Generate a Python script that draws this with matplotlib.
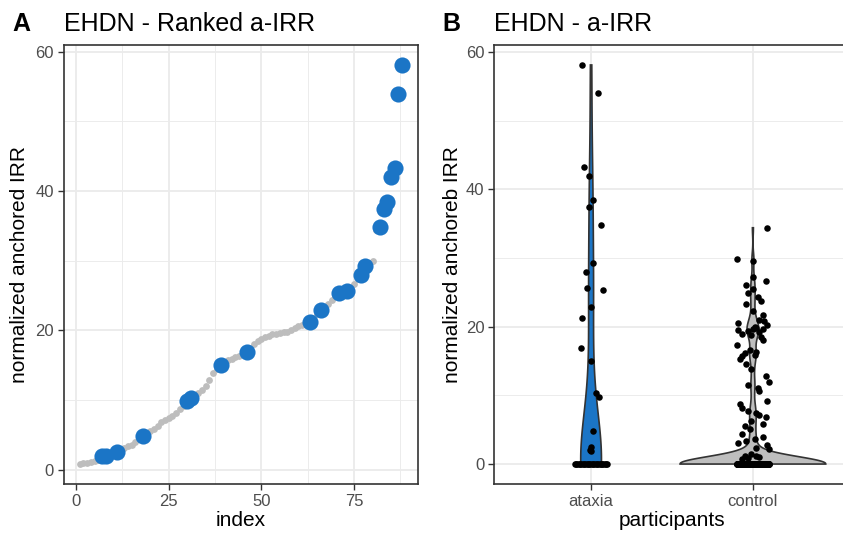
import numpy as np
import matplotlib
matplotlib.use("Agg")
import matplotlib.pyplot as plt

plt.rcParams['font.family'] = ['Liberation Sans', 'DejaVu Sans']

# ---------------- data ----------------
groups = ["ataxia", "control"]

ataxia_values = [1.9, 2.0, 2.5, 4.8, 9.8, 10.3, 15.0, 16.9, 21.2, 22.9, 25.4,
                 25.6, 28.0, 29.3, 34.8, 37.4, 38.4, 42.0, 43.3, 54.0, 58.1]
ataxia_jitter = [0.0, -0.006, 0.0, 0.014, 0.047, 0.029, 0.0, -0.062, -0.055, 0.0, 0.076,
                 -0.023, -0.033, 0.014, 0.062, -0.010, 0.014, -0.016, -0.041, 0.045, -0.057]

control_values = [0.8, 0.9, 1.0, 1.1, 1.2, 1.4, 2.2, 2.4, 2.8, 3.1, 3.4, 3.6, 4.0, 4.4,
                  5.1, 5.5, 5.9, 6.3, 6.8, 7.1, 7.4, 7.7, 8.1, 8.7, 9.2, 10.6, 11.0, 11.5,
                  12.0, 12.8, 13.9, 14.5, 15.3, 15.7, 15.9, 16.1, 16.3, 16.6, 17.4, 18.1,
                  18.5, 18.8, 19.0, 19.2, 19.4, 19.5, 19.6, 19.7, 19.8, 20.0, 20.3, 20.6,
                  20.8, 21.0, 21.7, 22.3, 23.3, 23.8, 24.3, 24.9, 25.5, 26.1, 26.6, 27.3,
                  29.6, 29.9, 34.4]
control_jitter = [-0.07, -0.03, 0.04, -0.05, 0.02, -0.01, 0.10, 0.02, 0.09, -0.09, -0.04,
                  0.01, 0.06, -0.07, -0.02, -0.05, 0.06, -0.01, 0.08, 0.04, 0.02, -0.03,
                  -0.07, -0.08, 0.09, 0.04, 0.03, -0.03, 0.10, 0.08, -0.01, -0.04, -0.08,
                  -0.07, 0.01, -0.05, 0.02, -0.02, -0.10, 0.06, 0.05, -0.01, -0.07, 0.04,
                  -0.03, -0.09, 0.06, 0.00, 0.02, 0.01, 0.09, -0.09, 0.07, 0.04, 0.06,
                  0.00, -0.04, 0.05, 0.03, -0.03, 0.00, -0.04, 0.08, 0.00, 0.00, -0.10, 0.09]

n_zero_ataxia = 26
n_zero_control = 145

# ---------------- style ----------------
BLUE = "#1B75C6"
GRAY_PT = "#BDBDBD"
GRAY_FILL = "#BEBEBE"
GRID = "#EBEBEB"
FRAME = "#333333"
TICKLAB = "#4D4D4D"

W, H = 843, 537
fig = plt.figure(figsize=(W / 100, H / 100), dpi=100)

def px_axes(l, r, t, b):
    return fig.add_axes([l / W, 1 - b / H, (r - l) / W, (b - t) / H])

axA = px_axes(63.6, 418.3, 45, 484)
axB = px_axes(494, 850, 45, 484)


def style(ax):
    for s in ax.spines.values():
        s.set_color(FRAME)
        s.set_linewidth(1.2)
    ax.grid(True, which="major", color=GRID, lw=1.3, zorder=0)
    ax.grid(True, which="minor", color=GRID, lw=0.65, zorder=0)
    ax.set_axisbelow(True)
    ax.tick_params(which="major", length=4, width=1.0, color=FRAME,
                   labelsize=12, labelcolor=TICKLAB, pad=3)
    ax.tick_params(which="minor", length=0)


# ---------------- Panel A ----------------
all_vals = np.array(ataxia_values + control_values)
is_ataxia = np.array([True] * len(ataxia_values) + [False] * len(control_values))
order = np.argsort(all_vals, kind="stable")
ranked = all_vals[order]
ranked_ataxia = is_ataxia[order]
idx = np.arange(1, len(ranked) + 1)

axA.scatter(idx[~ranked_ataxia], ranked[~ranked_ataxia], s=24, color=GRAY_PT, lw=0, zorder=2)
axA.scatter(idx[ranked_ataxia], ranked[ranked_ataxia], s=135, color=BLUE, lw=0, zorder=3)

xspan = idx.max() - idx.min()
axA.set_xlim(idx.min() - 0.05 * xspan, idx.max() + 0.05 * xspan)
yspan = ranked.max() - ranked.min()
axA.set_ylim(ranked.min() - 0.05 * yspan, ranked.max() + 0.05 * yspan)
axA.set_xticks([0, 25, 50, 75])
axA.set_xticks([12.5, 37.5, 62.5, 87.5], minor=True)
axA.set_yticks([0, 20, 40, 60])
axA.set_yticks([10, 30, 50], minor=True)
style(axA)
axA.set_xlabel("index", fontsize=15)
axA.set_ylabel("normalized anchored IRR", fontsize=15)
axA.yaxis.set_label_coords((20 - 63.6) / (418.3 - 63.6), 0.5)
axA.xaxis.set_label_coords(0.5, -(521 - 484) / 439)
axA.xaxis.label.set_va("center")
axA.yaxis.label.set_va("center")

# ---------------- Panel B ----------------
def nrd0(x):
    x = np.asarray(x, float)
    hi = np.std(x, ddof=1)
    q75, q25 = np.percentile(x, [75, 25])
    lo = min(hi, (q75 - q25) / 1.34)
    if lo <= 0:
        lo = hi
    return 0.9 * lo * len(x) ** -0.2


def kde(x, grid, h):
    x = np.asarray(x, float)
    z = (grid[:, None] - x[None, :]) / h
    return np.exp(-0.5 * z ** 2).sum(1) / (len(x) * h * np.sqrt(2 * np.pi))


full = {
    "ataxia": np.array(ataxia_values + [0.0] * n_zero_ataxia),
    "control": np.array(control_values + [0.0] * n_zero_control),
}
dens = {}
for g in groups:
    v = full[g]
    grid = np.linspace(v.min(), v.max(), 512)
    dens[g] = (grid, kde(v, grid, nrd0(v)))
dmax = max(d.max() for _, d in dens.values())

fills = {"ataxia": BLUE, "control": GRAY_FILL}
for i, g in enumerate(groups):
    grid, d = dens[g]
    hw = 0.45 * d / dmax
    xs = np.concatenate([i - hw, (i + hw)[::-1]])
    ys = np.concatenate([grid, grid[::-1]])
    axB.fill(xs, ys, facecolor=fills[g], edgecolor=FRAME, lw=1.2, zorder=2)

# jittered points
PT = 22
axB.scatter(0 + np.array(ataxia_jitter), ataxia_values, s=PT, color="black", lw=0, zorder=3)
axB.scatter(1 + np.array(control_jitter), control_values, s=PT, color="black", lw=0, zorder=3)
axB.scatter(0 + np.linspace(-0.1, 0.1, n_zero_ataxia), np.zeros(n_zero_ataxia),
            s=PT, color="black", lw=0, zorder=3)
axB.scatter(1 + np.linspace(-0.1, 0.1, n_zero_control), np.zeros(n_zero_control),
            s=PT, color="black", lw=0, zorder=3)

allB = np.concatenate([full[g] for g in groups])
spanB = allB.max() - allB.min()
axB.set_xlim(-0.6, 1.6)
axB.set_ylim(allB.min() - 0.05 * spanB, allB.max() + 0.05 * spanB)
axB.set_xticks([0, 1])
axB.set_xticklabels(groups)
axB.set_yticks([0, 20, 40, 60])
axB.set_yticks([10, 30, 50], minor=True)
style(axB)
axB.set_xlabel("participants", fontsize=15)
axB.set_ylabel("normalized anchoreb IRR", fontsize=15)
axB.yaxis.set_label_coords((452 - 494) / (850 - 494), 0.5)
axB.xaxis.set_label_coords(0.5, -(521 - 484) / 439)
axB.xaxis.label.set_va("center")
axB.yaxis.label.set_va("center")

# ---------------- titles / tags ----------------
base = 1 - 30.8 / H
fig.text(12 / W, base, "A", fontsize=18, fontweight="bold", va="baseline", ha="left")
fig.text(64 / W, base, "EHDN - Ranked a-IRR", fontsize=18, va="baseline", ha="left")
fig.text(442 / W, base, "B", fontsize=18, fontweight="bold", va="baseline", ha="left")
fig.text(494 / W, base, "EHDN - a-IRR", fontsize=18, va="baseline", ha="left")

fig.savefig("out.png", dpi=100)
